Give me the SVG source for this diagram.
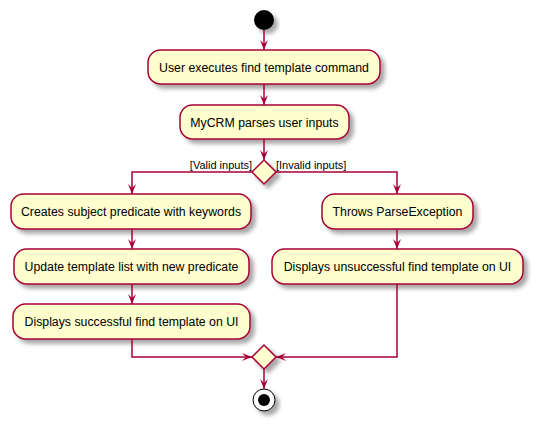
<svg xmlns="http://www.w3.org/2000/svg" width="539" height="427" viewBox="0 0 539 427">
<defs>
<filter id="sh" x="-20%" y="-20%" width="150%" height="160%">
<feGaussianBlur in="SourceAlpha" stdDeviation="2" result="b"/>
<feOffset in="b" dx="4" dy="4" result="o"/>
<feComponentTransfer in="o" result="s"><feFuncA type="linear" slope="0.35"/></feComponentTransfer>
<feMerge><feMergeNode in="s"/><feMergeNode in="SourceGraphic"/></feMerge>
</filter>
<marker id="ah" markerUnits="userSpaceOnUse" markerWidth="12" markerHeight="10" refX="10" refY="4" orient="auto" viewBox="0 0 12 10">
<path d="M0,0 L10,4 L0,8 L4,4 Z" fill="#A80036"/>
</marker>
</defs>
<style>
.act rect{fill:#FEFECE;stroke:#A80036;stroke-width:1.5}
.dia polygon{fill:#FEFECE;stroke:#A80036;stroke-width:1.5}
.t{font-family:"Liberation Sans",Arial,sans-serif;font-size:12.3px;fill:#000;text-anchor:middle}
.lbl{font-family:"Liberation Sans",Arial,sans-serif;font-size:11px;fill:#000}
.c path{fill:none;stroke:#A80036;stroke-width:1.5;marker-end:url(#ah)}
</style>
<g id="start"><circle cx="264" cy="20" r="10" fill="#000" filter="url(#sh)"/></g>
<g id="n1" class="act"><rect x="148" y="50" width="232" height="34" rx="12.5" filter="url(#sh)"/><text class="t" x="264" y="71.5">User executes find template command</text></g>
<g id="n2" class="act"><rect x="180" y="105" width="169" height="34" rx="12.5" filter="url(#sh)"/><text class="t" x="264.5" y="126.5">MyCRM parses user inputs</text></g>
<g id="d1" class="dia"><polygon points="264,160 276,172 264,184 252,172" filter="url(#sh)"/></g>
<g id="n3" class="act"><rect x="11" y="194" width="240" height="35" rx="12.5" filter="url(#sh)"/><text class="t" x="131" y="216">Creates subject predicate with keywords</text></g>
<g id="n4" class="act"><rect x="14" y="249" width="235" height="35" rx="12.5" filter="url(#sh)"/><text class="t" x="131.5" y="271">Update template list with new predicate</text></g>
<g id="n5" class="act"><rect x="13" y="304" width="237" height="35" rx="12.5" filter="url(#sh)"/><text class="t" x="131.5" y="326">Displays successful find template on UI</text></g>
<g id="n6" class="act"><rect x="322" y="194" width="151" height="35" rx="12.5" filter="url(#sh)"/><text class="t" x="397.5" y="216">Throws ParseException</text></g>
<g id="n7" class="act"><rect x="272" y="249" width="251" height="35" rx="12.5" filter="url(#sh)"/><text class="t" x="397.5" y="271">Displays unsuccessful find template on UI</text></g>
<g id="d2" class="dia"><polygon points="264,345 276,357 264,369 252,357" filter="url(#sh)"/></g>
<g id="end"><circle cx="264" cy="400" r="11" fill="#FFFFFF" stroke="#000" stroke-width="1" filter="url(#sh)"/><circle cx="264" cy="400" r="6" fill="#000"/></g>
<g id="connectors" class="c">
<path d="M264,30 L264,50"/>
<path d="M264,84 L264,105"/>
<path d="M264,139 L264,160"/>
<path d="M252,172 L132,172 L132,194"/>
<path d="M276,172 L397,172 L397,194"/>
<path d="M132,229 L132,249"/>
<path d="M132,284 L132,304"/>
<path d="M397,229 L397,249"/>
<path d="M132,339 L132,357 L252,357"/>
<path d="M397,284 L397,357 L276,357"/>
<path d="M264,369 L264,389"/>
</g>
<text class="lbl" x="252" y="168.5" text-anchor="end">[Valid inputs]</text>
<text class="lbl" x="276" y="168.5">[Invalid inputs]</text>
</svg>
